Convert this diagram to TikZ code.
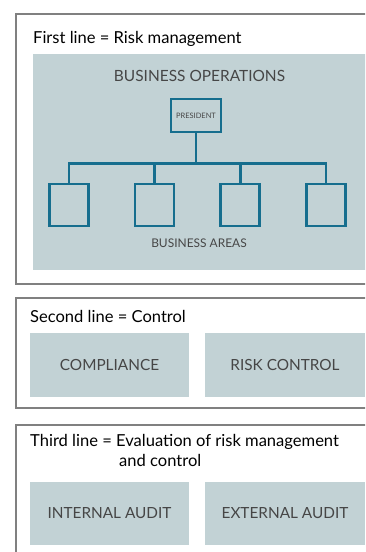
\documentclass[tikz,border=0pt]{standalone}
\usepackage{fontspec}
\setmainfont{Lato}
\usetikzlibrary{positioning}
\definecolor{panelgray}{RGB}{194,210,213}
\definecolor{orgteal}{RGB}{22,110,142}
\definecolor{framegray}{RGB}{128,128,128}
\definecolor{textgray}{RGB}{70,70,70}

\begin{document}
\begin{tikzpicture}
	[x=1bp,y=-1bp,
	frame/.style={draw=framegray,line width=1.3bp},
	panel/.style={fill=panelgray,inner sep=0pt,outer sep=0pt,minimum width=159bp,minimum height=63.5bp,text=textgray,font=\fontsize{15.4}{18}\selectfont},
	caption/.style={inner sep=0pt,text=textgray},
	title/.style={anchor=base west,inner sep=0pt,text=black,font=\fontsize{16.6}{19}\selectfont},
	unit/.style={draw=orgteal,line width=2.6bp,minimum width=39bp,minimum height=42bp,inner sep=0pt},
	tie/.style={draw=orgteal,line width=2.6bp}
	]
	\useasboundingbox (0,0) rectangle (365,552);
	\clip (0,0) rectangle (365,552);

	% first line
	\draw [frame] (16,14) rectangle (380,284);
	\fill [panelgray] (33,54) rectangle (380,270);
	\node (t1) [title] at (33,43.3) {First line = Risk management};
	\node (ops) [caption,font=\fontsize{15.5}{18}\selectfont] at (199.5,75.5) {BUSINESS OPERATIONS};
	\node (pres) [unit,minimum width=50bp,minimum height=33bp,text=textgray,font=\fontsize{7.5}{8}\selectfont] at (196,115.5) {PRESIDENT};
	\coordinate (hub) at (196,163.3);
	\node (a1) [unit] at (69,205) {};
	\node (a2) [unit,right=44bp of a1] {};
	\node (a3) [unit,right=44bp of a2] {};
	\node (a4) [unit,right=44bp of a3] {};
	\node (areas) [caption,font=\fontsize{12}{14}\selectfont] at (199,243) {BUSINESS AREAS};

	\draw [tie] (pres) -- (hub);
	\draw [tie] (hub) -| (a1.north);
	\draw [tie] (hub) -| (a2.north);
	\draw [tie] (hub) -| (a3.north);
	\draw [tie] (hub) -| (a4.north);

	% second line
	\draw [frame] (16,298) rectangle (380,408);
	\node (t2) [title] at (30,322.3) {Second line = Control};
	\node (comp) [panel] at (109.5,365) {COMPLIANCE};
	\node (risk) [panel,minimum width=160bp,right=16bp of comp] {RISK CONTROL};

	% third line
	\draw [frame] (16,425) rectangle (380,570);
	\node (t3) [title] at (30,446.7) {Third line = Evaluation of risk management};
	\node (t3b) [title] at (119,466.3) {and control};
	\node (int) [panel] at (109.5,513.5) {INTERNAL AUDIT};
	\node (ext) [panel,minimum width=160bp,right=16bp of int] {EXTERNAL AUDIT};
\end{tikzpicture}
\end{document}
